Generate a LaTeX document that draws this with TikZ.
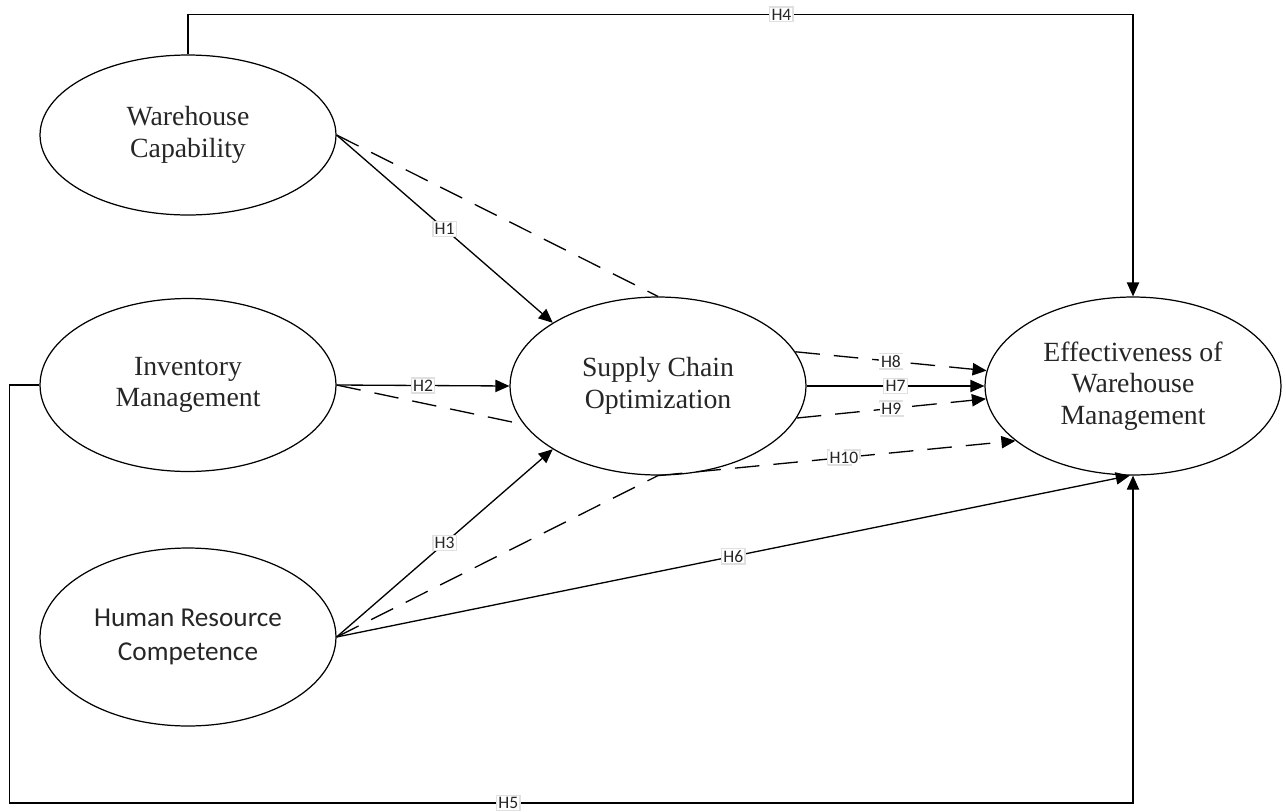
\documentclass[tikz,border=0pt]{standalone}
\usepackage{fontspec}
\setmainfont{Liberation Serif}
\newfontfamily\calfont{Carlito}
\usetikzlibrary{shapes.geometric,arrows.meta,positioning}
\tikzset{
  latent/.style={ellipse, draw, thin, line width=0.7pt, align=center,
                 font=\fontsize{15.8}{18}\selectfont, text=black!85,
                 minimum width=5.92cm, minimum height=3.56cm, inner sep=0pt},
  flecha/.style={-{Triangle[length=8pt,width=7pt]}, line width=0.75pt},
  rayas/.style={line width=0.75pt, dash pattern=on 14pt off 8pt},
  etiq/.style={font=\calfont\fontsize{10}{11}\selectfont, fill=white, draw=black!12,
               inner sep=1pt, text=black!85}
}
\begin{document}
\begin{tikzpicture}[x=0.02cm,y=-0.02cm]
\useasboundingbox (0,0) rectangle (1286,812);

\node[latent,minimum height=3.2cm] (wc) at (188,135) {Warehouse\\ Capability};
\node[latent,minimum height=3.46cm] (inv) at (188,385) {Inventory\\ Management};
\node[latent,font=\calfont\fontsize{15.5}{19}\selectfont] (hr) at (188,637) {Human Resource\\ Competence};
\node[latent] (sco) at (658,386) {Supply Chain\\ Optimization};
\node[latent] (eff) at (1133,386) {Effectiveness of\\ Warehouse\\ Management};

\draw[flecha] (wc.east) -- node[etiq]{H1} (sco.149);
\draw[rayas] (wc.east) -- (sco.north);
\draw[flecha] (inv.east) -- node[etiq]{H2} (sco.west);
\draw[rayas] (inv.east) -- (sco.196);
\draw[flecha] (hr.east) -- node[etiq]{H3} (sco.211);
\draw[rayas] (hr.east) -- (sco.south);
\draw[flecha] (hr.east) -- node[etiq]{H6} (eff.268);

\draw[flecha] (wc.north) -- ++(0,-40) -| node[etiq,pos=0.314]{H4} (eff.north);
\draw[flecha] (inv.west) -- ++(-30,0) -- ++(0,418) -| node[etiq,pos=0.222]{H5} (eff.south);

\draw[flecha] (sco.east) -- node[etiq]{H7} (eff.west);
\draw[rayas,-{Triangle[length=8pt,width=7pt]}] (sco.14) -- node[etiq]{H8} (eff.174);
\draw[rayas,-{Triangle[length=8pt,width=7pt]}] (sco.347) -- node[etiq]{H9} (eff.185);
\draw[rayas,-{Triangle[length=8pt,width=7pt]}] (sco.south) -- node[etiq,pos=0.52]{H10} (eff.205);
\end{tikzpicture}
\end{document}
